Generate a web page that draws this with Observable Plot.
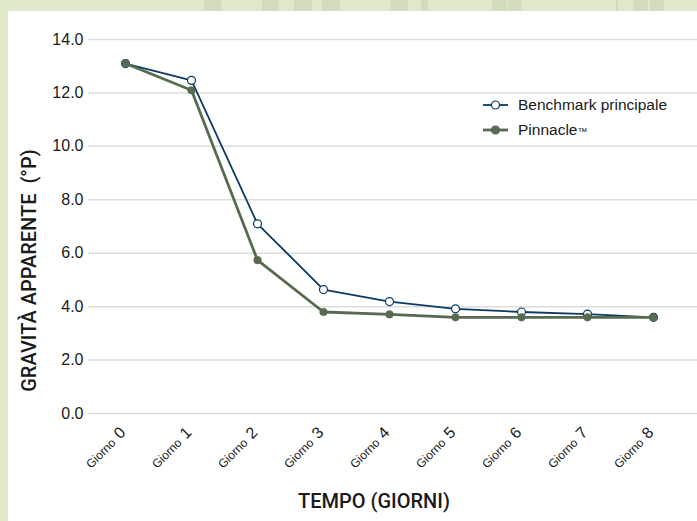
<!DOCTYPE html>
<html><head><meta charset="utf-8">
<script src="https://cdn.jsdelivr.net/npm/d3@7"></script>
<script src="https://cdn.jsdelivr.net/npm/@observablehq/plot@0.6"></script>
<style>
body{margin:0;background:#dfe8c8;width:697px;height:521px;overflow:hidden;position:relative}
#panel{position:absolute;left:8px;top:11px;right:0;bottom:0;background:#fff}
.sq{position:absolute;top:0;height:11px;background:#d1dcba}
#chart{position:absolute;left:0;top:0}
#legend{position:absolute;left:0;top:0}
</style></head>
<body>
<div id="panel"></div>
<div id="deco"></div>
<div id="chart"></div>
<svg id="legend" width="697" height="521"></svg>
<script>
const days = ["0","1","2","3","4","5","6","7","8"];
const benchmark = [13.1, 12.47, 7.1, 4.64, 4.19, 3.92, 3.8, 3.72, 3.6];
const pinnacle = [13.1, 12.1, 5.74, 3.8, 3.71, 3.6, 3.6, 3.6, 3.6];
const yTicks = [0, 2, 4, 6, 8, 10, 12, 14];
const seriesNames = ["Benchmark principale", "Pinnacle™"];
const dayWord = "Giorno";
const yTitle = "GRAVITÀ APPARENTE\u00a0\u00a0(°P)";
const xTitle = "TEMPO (GIORNI)";

const navy = "#0b3a62", green = "#566b50";
const sans = "'Liberation Sans',Arial,sans-serif";

// decorative top-band squares
const deco = [[204,17],[262,17],[294,18],[322,18],[391,17],[421,7],[492,15],[508,13],[616,2],[633,15],[650,14]];
d3.select("#deco").selectAll("div").data(deco).join("div").attr("class","sq")
  .style("left", d => d[0] + "px").style("width", d => d[1] + "px");

const bData = days.map((d, i) => ({day: d, v: benchmark[i]}));
const pData = days.map((d, i) => ({day: d, v: pinnacle[i]}));

const plot = Plot.plot({
  width: 697, height: 521,
  marginLeft: 88, marginRight: 0, marginTop: 39, marginBottom: 108,
  style: {fontFamily: sans, background: "transparent", color: "#1a1a1a"},
  x: {type: "point", domain: days, padding: 0, insetLeft: 36, insetRight: 44, axis: null},
  y: {domain: [0, 14], axis: null},
  marks: [
    Plot.gridY(yTicks, {stroke: "#dcdcdc", strokeOpacity: 1, strokeWidth: 1.5}),
    Plot.axisY(yTicks, {tickSize: 0, tickPadding: 5, tickFormat: d3.format(".1f"), fontSize: 16, label: null, ariaLabel: "ytick"}),
    Plot.text(days, {x: d => d, text: d => d, frameAnchor: "bottom", dx: 1, dy: 20, rotate: -45, textAnchor: "end", lineAnchor: "bottom", fontSize: 16, ariaLabel: "xdigit"}),
    Plot.text(days, {x: d => d, text: () => dayWord, frameAnchor: "bottom", dx: -9, dy: 30, rotate: -45, textAnchor: "end", lineAnchor: "bottom", fontSize: 12, ariaLabel: "xword"}),
    Plot.text([yTitle], {frameAnchor: "left", dx: -59, dy: 44, rotate: -90, textAnchor: "middle", lineAnchor: "middle", fontSize: 20, fontWeight: 500, fontFamily: "Roboto", ariaLabel: "ytitle"}),
    Plot.text([xTitle], {frameAnchor: "bottom", dx: -19, dy: 88, textAnchor: "middle", lineAnchor: "middle", fontSize: 20, fontWeight: 500, fontFamily: "Roboto", ariaLabel: "xtitle"}),
    Plot.line(bData, {x: "day", y: "v", stroke: navy, strokeWidth: 1.8}),
    Plot.dot(bData, {x: "day", y: "v", r: 4, fill: "white", stroke: navy, strokeWidth: 1.2}),
    Plot.line(pData, {x: "day", y: "v", stroke: green, strokeWidth: 2.8}),
    Plot.dot(pData, {x: "day", y: "v", r: 3.8, fill: green, stroke: green, strokeWidth: 0.5})
  ]
});
document.getElementById("chart").appendChild(plot);

// emulate a condensed face by compressing glyphs horizontally
function squeeze(label, factor, fixed) {
  d3.select(plot).selectAll(`g[aria-label="${label}"] text`).each(function() {
    const L = fixed != null ? fixed : this.getComputedTextLength() * factor;
    this.setAttribute("textLength", L);
    this.setAttribute("lengthAdjust", "spacingAndGlyphs");
  });
}
squeeze("ytick", 0.88);
squeeze("xdigit", 0.85);
squeeze("xword", 0.82);
squeeze("ytitle", null, 242);
squeeze("xtitle", null, 152);

// legend
const lg = d3.select("#legend");
const rows = [
  {name: seriesNames[0], color: navy, w: 1.8, fill: "white", y: 105},
  {name: seriesNames[1], color: green, w: 2.8, fill: green, y: 130}
];
const g = lg.selectAll("g").data(rows).join("g").attr("transform", d => `translate(0,${d.y})`);
g.append("line").attr("x1", 483).attr("x2", 508).attr("stroke", d => d.color).attr("stroke-width", d => d.w);
g.append("circle").attr("cx", 495.5).attr("r", 4).attr("fill", d => d.fill).attr("stroke", d => d.color).attr("stroke-width", 1.2);
const t = g.append("text").attr("x", 518).attr("dy", "0.35em").attr("font-family", sans)
  .attr("font-size", 15.5).attr("fill", "#1a1a1a");
t.each(function(d) {
  const parts = d.name.split("™");
  const el = d3.select(this);
  el.append("tspan").text(parts[0]);
  if (parts.length > 1) el.append("tspan").attr("font-size", 10).text("™");
});
</script>
</body></html>
